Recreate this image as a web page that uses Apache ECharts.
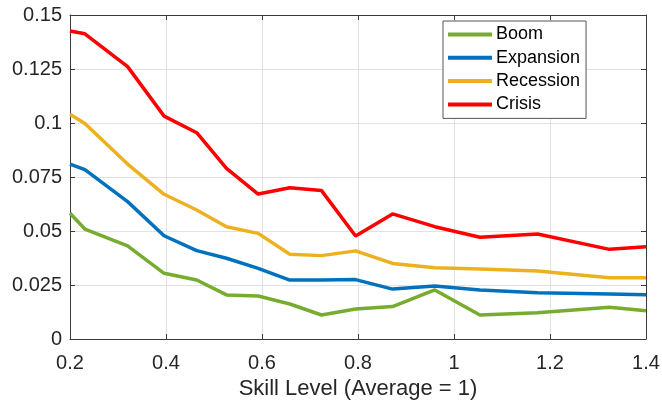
<!DOCTYPE html>
<html>
<head>
<meta charset="utf-8">
<script src="https://cdn.jsdelivr.net/npm/echarts@6/dist/echarts.min.js"></script>
<style>
html,body{margin:0;padding:0;background:#fff;}
#chart{width:662px;height:402px;}
</style>
</head>
<body>
<div id="chart"></div>
<script>
const skillLevels = [0.2, 0.231, 0.32, 0.396, 0.464, 0.526, 0.592, 0.658, 0.724, 0.795, 0.872, 0.960, 1.054, 1.174, 1.324, 1.4];
const boom      = [0.0582, 0.0509, 0.0431, 0.0304, 0.0273, 0.0204, 0.0199, 0.0162, 0.0111, 0.0139, 0.0150, 0.0227, 0.0111, 0.0122, 0.0147, 0.0131];
const expansion = [0.0810, 0.0784, 0.0636, 0.0478, 0.0409, 0.0374, 0.0327, 0.0273, 0.0273, 0.0275, 0.0231, 0.0245, 0.0227, 0.0214, 0.0208, 0.0205];
const recession = [0.1040, 0.0998, 0.0810, 0.0670, 0.0597, 0.0520, 0.0489, 0.0392, 0.0386, 0.0408, 0.0350, 0.0330, 0.0324, 0.0315, 0.0284, 0.0284];
const crisis    = [0.1426, 0.1413, 0.1261, 0.1032, 0.0955, 0.0790, 0.0671, 0.0700, 0.0687, 0.0477, 0.0579, 0.0520, 0.0471, 0.0486, 0.0415, 0.0427];
const seriesNames = ['Boom', 'Expansion', 'Recession', 'Crisis'];
const xTickLabels = ['0.2', '0.4', '0.6', '0.8', '1', '1.2', '1.4'];
const yTickLabels = ['0', '0.025', '0.05', '0.075', '0.1', '0.125', '0.15'];
const xTitle = 'Skill Level (Average = 1)';

const colors = ['#77AC30', '#0072BD', '#EDB120', '#FF0000'];
const seriesValues = [boom, expansion, recession, crisis];
const FONT = 'Liberation Sans, Arial, sans-serif';
const axisColor = '#3a3a3a';
const textColor = '#262626';

const chart = echarts.init(document.getElementById('chart'), null, {renderer: 'canvas'});

const xFmt = v => xTickLabels[Math.round((v - 0.2) / 0.2)] ?? '';
const yFmt = v => yTickLabels[Math.round(v / 0.025)] ?? '';

const option = {
  animation: false,
  backgroundColor: '#ffffff',
  grid: {left: 70, right: 16, top: 15, bottom: 63, containLabel: false, outerBoundsMode: 'none'},
  legend: {
    orient: 'vertical',
    left: 443,
    top: 21,
    padding: [4.5, 6, 5, 5],
    itemGap: 5.3,
    itemWidth: 44,
    itemHeight: 4,
    icon: 'rect',
    backgroundColor: '#ffffff',
    borderColor: '#555555',
    borderWidth: 1,
    borderRadius: 0,
    textStyle: {fontFamily: FONT, fontSize: 18, color: '#000000', lineHeight: 18, padding: [0, 0, 0, -1]},
    data: seriesNames
  },
  xAxis: [{
    type: 'value', min: 0.2, max: 1.4, interval: 0.2,
    name: xTitle, nameLocation: 'middle', nameGap: 36,
    nameTextStyle: {fontFamily: FONT, fontSize: 22, color: textColor},
    axisLine: {show: true, lineStyle: {color: axisColor, width: 1}},
    axisTick: {show: true, inside: true, length: 5, lineStyle: {color: axisColor}},
    axisLabel: {fontFamily: FONT, fontSize: 20, color: textColor, margin: 14, formatter: xFmt},
    splitLine: {show: true, lineStyle: {color: '#e2e2e2', width: 1}}
  }, {
    type: 'value', min: 0.2, max: 1.4, interval: 0.2, position: 'top',
    axisLine: {show: true, onZero: false, lineStyle: {color: axisColor, width: 1}},
    axisTick: {show: true, inside: true, length: 5, lineStyle: {color: axisColor}},
    axisLabel: {show: false},
    splitLine: {show: false}
  }],
  yAxis: [{
    type: 'value', min: 0, max: 0.15, interval: 0.025,
    axisLine: {show: true, lineStyle: {color: axisColor, width: 1}},
    axisTick: {show: true, inside: true, length: 5, lineStyle: {color: axisColor}},
    axisLabel: {fontFamily: FONT, fontSize: 20, color: textColor, margin: 8, formatter: yFmt},
    splitLine: {show: true, lineStyle: {color: '#e2e2e2', width: 1}}
  }, {
    type: 'value', min: 0, max: 0.15, interval: 0.025, position: 'right',
    axisLine: {show: true, onZero: false, lineStyle: {color: axisColor, width: 1}},
    axisTick: {show: true, inside: true, length: 5, lineStyle: {color: axisColor}},
    axisLabel: {show: false},
    splitLine: {show: false}
  }],
  series: seriesNames.map((name, i) => ({
    name: name,
    type: 'line',
    xAxisIndex: 0,
    yAxisIndex: 0,
    data: skillLevels.map((x, j) => [x, seriesValues[i][j]]),
    showSymbol: false,
    symbol: 'none',
    lineStyle: {color: colors[i], width: 3.5},
    itemStyle: {color: colors[i]},
    z: 2 + i
  }))
};
chart.setOption(option);
</script>
</body>
</html>
